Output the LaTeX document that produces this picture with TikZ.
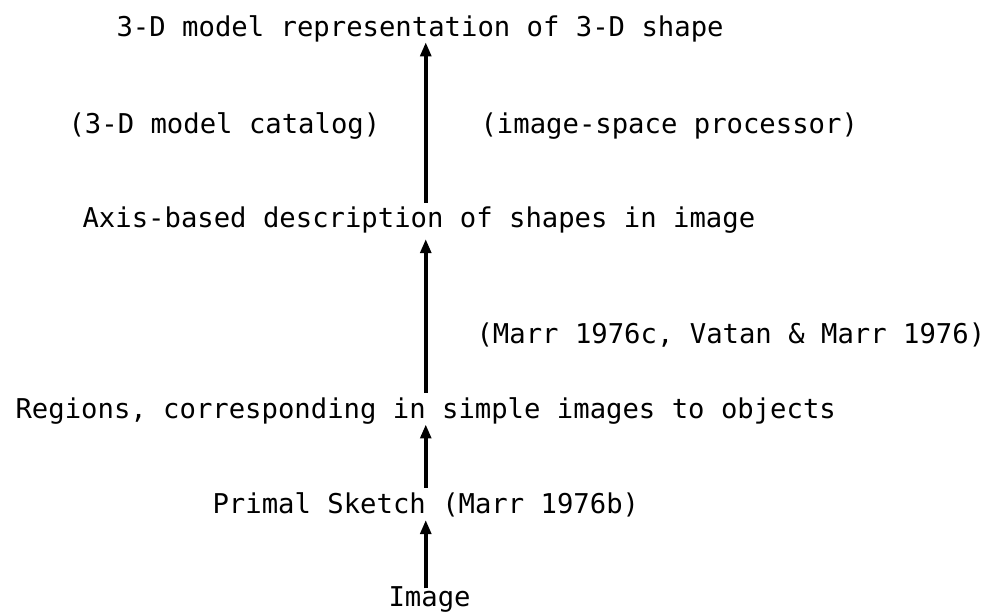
\documentclass[tikz,border=0pt]{standalone}
\usepackage{fontspec}
\setmonofont{DejaVu Sans Mono}
\usetikzlibrary{arrows.meta}
\begin{document}
\begin{tikzpicture}[x=0.0125cm,y=-0.0125cm,>={Triangle[length=5pt,width=3.8pt]},
  txt/.style={anchor=base west,inner sep=0pt,font=\ttfamily\fontsize{9.69}{11}\selectfont},
  up/.style={->,line width=1.3pt}]
\useasboundingbox (0,0) rectangle (983,614);
% the levels, top to bottom
\node[txt] (model) at (116,36) {3-D model representation of 3-D shape};
\node[txt] (catalog) at (68,133) {(3-D model catalog)};
\node[txt] (proc) at (480,133) {(image-space processor)};
\node[txt] (axis) at (82,227) {Axis-based description of shapes in image};
\node[txt] (marr) at (476,343) {(Marr 1976c, Vatan \& Marr 1976)};
\node[txt] (regions) at (15,418) {Regions, corresponding in simple images to objects};
\node[txt] (primal) at (212,513) {Primal Sketch (Marr 1976b)};
\node[txt] (image) at (388,606) {Image};
% arrows going up
\draw[up,shorten <=-1pt,shorten >=1pt] (image.north -| regions) -- (primal.south -| regions);
\draw[up,shorten <=1.4pt] (primal.north -| regions) -- (regions.south);
\draw[up,shorten <=1.4pt,shorten >=2pt] (regions.north) -- (axis.south -| regions);
\draw[up,shorten <=1pt] (axis.north -| regions) -- (model.south -| regions);
\end{tikzpicture}
\end{document}
